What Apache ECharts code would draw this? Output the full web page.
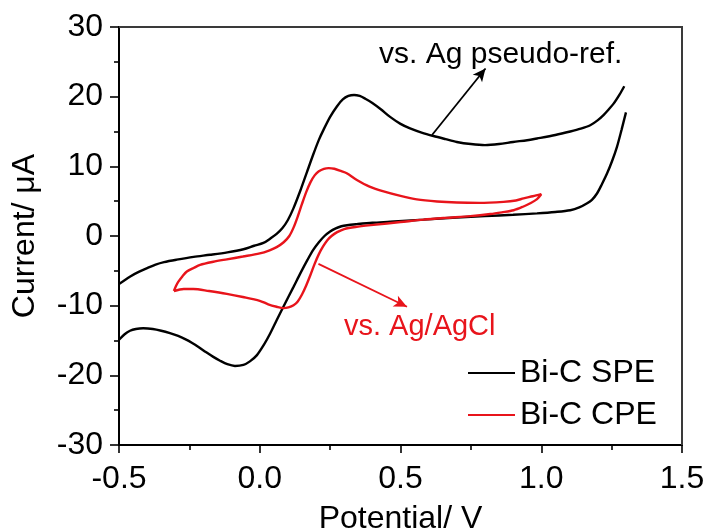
<!DOCTYPE html>
<html>
<head>
<meta charset="utf-8">
<title>Cyclic voltammograms of Bi-C electrodes</title>
<script src="https://cdn.jsdelivr.net/npm/echarts@6/dist/echarts.min.js"></script>
<style>
  html, body { margin: 0; padding: 0; background: #fff; }
  #chart { width: 708px; height: 530px; }
</style>
</head>
<body>
<div id="chart"></div>
<script>
// Bi-C screen-printed electrode (vs. Ag pseudo-reference):
// reverse sweep from 1.3 V down to -0.5 V, then the forward sweep back up.
var speReverse = [
  [1.301, 17.75], [1.285, 15.2], [1.269, 12.8], [1.252, 10.8], [1.234, 9.0],
  [1.215, 7.4], [1.198, 6.1], [1.180, 5.2], [1.163, 4.7], [1.135, 4.1],
  [1.103, 3.7], [1.05, 3.45], [0.985, 3.25], [0.9, 3.05], [0.8, 2.85],
  [0.7, 2.65], [0.582, 2.35], [0.463, 2.05], [0.4, 1.9], [0.345, 1.7],
  [0.31, 1.55], [0.29, 1.4], [0.27, 1.1], [0.25, 0.65], [0.23, 0.0],
  [0.21, -0.9], [0.19, -2.0], [0.17, -3.4], [0.145, -5.3], [0.12, -7.3],
  [0.084, -10.15], [0.06, -12.1], [0.037, -14.0], [0.015, -15.6], [-0.01, -17.1],
  [-0.035, -18.0], [-0.058, -18.5], [-0.088, -18.65], [-0.115, -18.4], [-0.141, -17.9],
  [-0.165, -17.35], [-0.19, -16.7], [-0.215, -16.0], [-0.24, -15.35], [-0.265, -14.8],
  [-0.29, -14.35], [-0.319, -13.95], [-0.35, -13.6], [-0.38, -13.35], [-0.414, -13.25],
  [-0.44, -13.35], [-0.461, -13.6], [-0.48, -14.1], [-0.5, -14.9]
];
var speForward = [
  [-0.5, -6.9], [-0.46, -5.8], [-0.43, -5.15], [-0.4, -4.6], [-0.37, -4.1],
  [-0.34, -3.75], [-0.295, -3.4], [-0.235, -3.0], [-0.176, -2.7], [-0.115, -2.35],
  [-0.058, -1.9], [-0.02, -1.4], [0.013, -1.0], [0.04, -0.3], [0.06, 0.3],
  [0.08, 1.1], [0.1, 2.3], [0.12, 4.0], [0.145, 6.6], [0.167, 9.1],
  [0.19, 11.7], [0.21, 13.8], [0.226, 15.2], [0.25, 17.1], [0.274, 18.6],
  [0.295, 19.6], [0.315, 20.1], [0.335, 20.25], [0.355, 20.1], [0.375, 19.7],
  [0.4, 19.1], [0.43, 18.2], [0.463, 17.1], [0.5, 16.1], [0.534, 15.45],
  [0.575, 14.85], [0.617, 14.35], [0.66, 13.9], [0.70, 13.5], [0.75, 13.2],
  [0.8, 13.05], [0.85, 13.2], [0.9, 13.5], [0.95, 13.75], [0.985, 14.0],
  [1.05, 14.5], [1.103, 15.0], [1.14, 15.4], [1.174, 15.9], [1.2, 16.6],
  [1.222, 17.4], [1.24, 18.2], [1.257, 19.0], [1.278, 20.3], [1.295, 21.5]
];

// Bi-C carbon paste electrode (vs. Ag/AgCl): closed loop between -0.3 V and 1.0 V.
var cpeForward = [
  [-0.305, -7.9], [-0.298, -7.2], [-0.289, -6.55], [-0.275, -5.8], [-0.259, -5.1],
  [-0.235, -4.6], [-0.212, -4.15], [-0.165, -3.7], [-0.117, -3.35], [-0.06, -2.95],
  [0.0, -2.5], [0.035, -2.05], [0.06, -1.6], [0.085, -0.9], [0.105, 0.0],
  [0.12, 1.2], [0.135, 2.8], [0.15, 4.6], [0.165, 6.3], [0.18, 7.7],
  [0.195, 8.7], [0.21, 9.3], [0.228, 9.65], [0.245, 9.75], [0.265, 9.65],
  [0.29, 9.3], [0.309, 9.0], [0.345, 8.05], [0.39, 7.1], [0.44, 6.4],
  [0.5, 5.75], [0.558, 5.25], [0.63, 4.95], [0.70, 4.8], [0.78, 4.75],
  [0.866, 4.9], [0.91, 5.1], [0.937, 5.4], [0.97, 5.7], [1.0, 6.0]
];
var cpeReverse = [
  [1.0, 6.0], [0.985, 5.3], [0.961, 4.7], [0.935, 4.2], [0.902, 3.7],
  [0.86, 3.4], [0.819, 3.15], [0.748, 2.85], [0.66, 2.6], [0.582, 2.35],
  [0.5, 2.0], [0.404, 1.6], [0.34, 1.3], [0.3, 1.0], [0.275, 0.55],
  [0.255, 0.0], [0.24, -0.6], [0.225, -1.5], [0.21, -2.6], [0.195, -4.0],
  [0.18, -5.6], [0.165, -7.1], [0.15, -8.4], [0.135, -9.4], [0.12, -9.95],
  [0.102, -10.25], [0.084, -10.35], [0.06, -10.15], [0.03, -9.8], [0.0, -9.3],
  [-0.06, -8.75], [-0.117, -8.3], [-0.18, -7.9], [-0.236, -7.6], [-0.27, -7.6],
  [-0.305, -7.9]
];

var seriesNames = ['Bi-C SPE', 'Bi-C CPE'];
var xTicks = { min: -0.5, max: 1.5, step: 0.5 };
var yTicks = { min: -30, max: 30, step: 10 };

// Reference-electrode callouts: arrow tail and head in (V, µA).
var agPseudoArrow = [[0.612, 14.5], [0.802, 24.05]];
var agAgClArrow = [[0.2085, -4.0], [0.523, -10.15]];
var agPseudoText = 'vs. Ag pseudo-ref.';
var agAgClText = 'vs. Ag/AgCl';

var FONT = '"Liberation Sans", Arial, Helvetica, sans-serif';
var RED = '#e8141b';
var FRAME = '#3a3a3a';
var GRID = { left: 119, right: 26, top: 27, bottom: 85 };

function arrowLine(pair, color) {
  return {
    silent: true,
    symbol: ['none', 'arrow'],
    symbolSize: [9, 13],
    label: { show: false },
    lineStyle: { color: color, width: 1.8, type: 'solid' },
    emphasis: { disabled: true },
    data: [[{ coord: pair[0] }, { coord: pair[1] }]]
  };
}

var chart = echarts.init(document.getElementById('chart'), null, { renderer: 'canvas' });

chart.setOption({
  animation: false,
  backgroundColor: '#fff',
  textStyle: { fontFamily: FONT },
  grid: {
    left: GRID.left, right: GRID.right, top: GRID.top, bottom: GRID.bottom,
    outerBoundsMode: 'none',
    show: true, borderColor: FRAME, borderWidth: 2, backgroundColor: '#fff'
  },
  legend: {
    data: seriesNames,
    orient: 'vertical',
    left: 468, top: 357,
    padding: 0,
    icon: 'rect',
    itemWidth: 47, itemHeight: 2, itemGap: 10,
    selectedMode: false,
    textStyle: { fontSize: 32, color: '#000', fontFamily: FONT, lineHeight: 32 }
  },
  xAxis: {
    type: 'value',
    min: xTicks.min, max: xTicks.max, interval: xTicks.step,
    name: 'Potential/ V',
    nameLocation: 'middle',
    nameGap: 58,
    nameTextStyle: { fontSize: 32, color: '#000', fontFamily: FONT },
    axisLine: { onZero: false, lineStyle: { color: '#000', width: 2 } },
    axisTick: { inside: false, length: 8, lineStyle: { color: '#000', width: 1.6 } },
    minorTick: { show: true, splitNumber: 2, length: 5, lineStyle: { color: '#000', width: 1.6 } },
    splitLine: { show: false },
    axisLabel: {
      margin: 18, fontSize: 32, color: '#000', fontFamily: FONT,
      formatter: function (v) { return v.toFixed(1); }
    },
    z: 5
  },
  yAxis: {
    type: 'value',
    min: yTicks.min, max: yTicks.max, interval: yTicks.step,
    name: 'Current/ \u03BCA',
    nameLocation: 'middle',
    nameGap: 78,
    nameTextStyle: { fontSize: 32, color: '#000', fontFamily: FONT },
    axisLine: { onZero: false, lineStyle: { color: '#000', width: 2 } },
    axisTick: { inside: false, length: 9, lineStyle: { color: '#000', width: 1.6 } },
    minorTick: { show: true, splitNumber: 2, length: 5, lineStyle: { color: '#000', width: 1.6 } },
    splitLine: { show: false },
    axisLabel: {
      margin: 16, fontSize: 32, color: '#000', fontFamily: FONT,
      formatter: function (v) { return String(v); }
    },
    z: 5
  },
  series: [
    {
      name: seriesNames[0],
      type: 'line',
      symbol: 'none',
      smooth: 0.3,
      clip: true,
      connectNulls: false,
      lineStyle: { color: '#000', width: 2.4 },
      itemStyle: { color: '#000' },
      data: speReverse.concat(['-'], speForward),
      markLine: arrowLine(agPseudoArrow, '#000'),
      z: 3
    },
    {
      name: seriesNames[1],
      type: 'line',
      symbol: 'none',
      smooth: 0.3,
      clip: true,
      lineStyle: { color: RED, width: 2.4 },
      itemStyle: { color: RED },
      data: cpeForward.concat(cpeReverse.slice(1)),
      markLine: arrowLine(agAgClArrow, RED),
      z: 4
    }
  ]
});

// Plot-box edges along the top and right, placed at the axes' own extents,
// plus the two reference-electrode captions.
var topLeft = chart.convertToPixel({ xAxisIndex: 0, yAxisIndex: 0 }, [xTicks.min, yTicks.max]);
var topRight = chart.convertToPixel({ xAxisIndex: 0, yAxisIndex: 0 }, [xTicks.max, yTicks.max]);
var bottomRight = chart.convertToPixel({ xAxisIndex: 0, yAxisIndex: 0 }, [xTicks.max, yTicks.min]);
chart.setOption({
  graphic: [
    {
      id: 'frame',
      type: 'polyline',
      silent: true,
      z: 10,
      shape: { points: [topLeft, topRight, bottomRight] },
      style: { stroke: FRAME, lineWidth: 2, fill: 'none' }
    },
    {
      id: 'labelPseudo',
      type: 'text',
      silent: true,
      z: 10,
      style: {
        x: 379, y: 55, text: agPseudoText,
        fontSize: 30, fontFamily: FONT, fill: '#000',
        align: 'left', verticalAlign: 'middle'
      }
    },
    {
      id: 'labelAgCl',
      type: 'text',
      silent: true,
      z: 10,
      style: {
        x: 344, y: 327, text: agAgClText,
        fontSize: 29, fontFamily: FONT, fill: RED,
        align: 'left', verticalAlign: 'middle'
      }
    }
  ]
});
</script>
</body>
</html>
